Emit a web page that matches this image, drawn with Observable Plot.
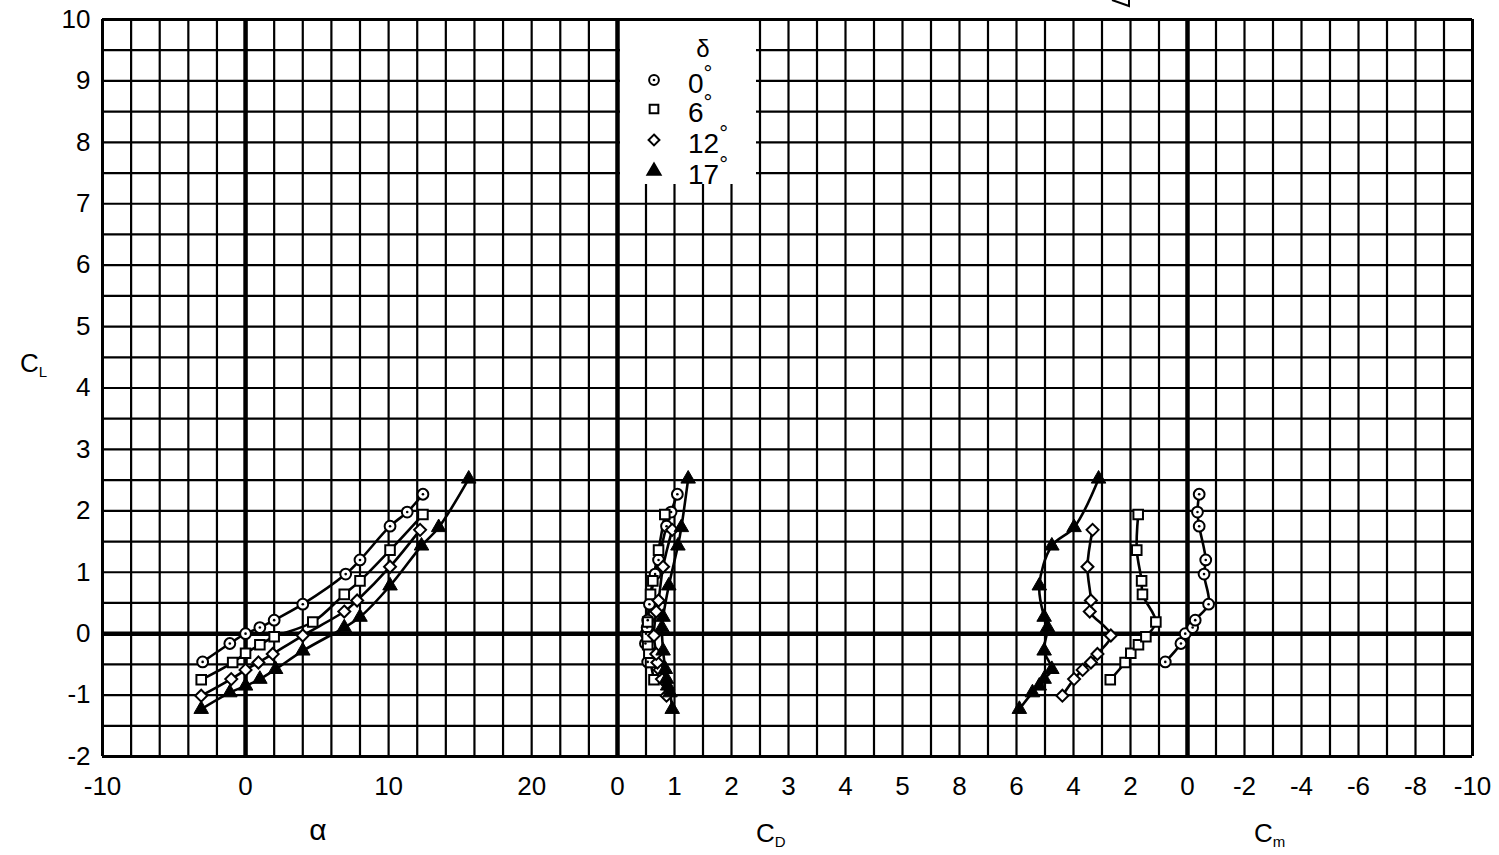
<!DOCTYPE html>
<html>
<head>
<meta charset="utf-8">
<script src="https://cdn.jsdelivr.net/npm/d3@7"></script>
<script src="https://cdn.jsdelivr.net/npm/@observablehq/plot@0.6"></script>
<style>
  html, body { margin: 0; padding: 0; background: #fff; }
  #chart { position: relative; width: 1499px; height: 855px; overflow: hidden; background: #fff;
           font-family: "Liberation Sans", Arial, sans-serif; }
  #chart > svg { position: absolute; top: 0; overflow: visible; }
</style>
</head>
<body>
<div id="chart"></div>
<script>
// ---------- categories ----------
const deltaLabels = ["0°", "6°", "12°", "17°"];
const markerShapes = ["circle", "square", "diamond2", "triangle"];

// ---------- tick labels ----------
const alphaTicks = [-10, 0, 10, 20];
const cdTicks = [0, 1, 2, 3, 4, 5];
const cmTicks = [8, 6, 4, 2, 0, -2, -4, -6, -8, -10];
const clTicks = [-2, -1, 0, 1, 2, 3, 4, 5, 6, 7, 8, 9, 10];

// ---------- series values ----------
// δ = 0°
const cl0    = [-0.46, -0.16, 0.00, 0.10, 0.22, 0.48, 0.97, 1.20, 1.75, 1.98, 2.27];
const alpha0 = [-3.0, -1.1, 0.0, 1.0, 2.0, 4.0, 7.0, 8.0, 10.1, 11.3, 12.4];
const cd0    = [0.53, 0.49, 0.50, 0.52, 0.53, 0.56, 0.66, 0.72, 0.86, 0.94, 1.05];
const cm0    = [0.78, 0.23, 0.08, -0.18, -0.27, -0.74, -0.58, -0.64, -0.41, -0.35, -0.41];
// δ = 6°
const cl6    = [-0.75, -0.47, -0.32, -0.18, -0.05, 0.19, 0.64, 0.86, 1.36, 1.94];
const alpha6 = [-3.1, -0.9, 0.0, 1.0, 2.0, 4.7, 6.9, 8.0, 10.1, 12.4];
const cd6    = [0.64, 0.58, 0.55, 0.53, 0.52, 0.53, 0.58, 0.62, 0.72, 0.83];
const cm6    = [2.71, 2.19, 1.99, 1.72, 1.46, 1.11, 1.58, 1.61, 1.78, 1.73];
// δ = 12°
const cl12    = [-1.01, -0.74, -0.59, -0.47, -0.33, -0.03, 0.36, 0.54, 1.09, 1.69];
const alpha12 = [-3.1, -1.0, 0.0, 0.9, 1.9, 4.0, 6.9, 7.8, 10.1, 12.2];
const cd12    = [0.86, 0.78, 0.74, 0.70, 0.68, 0.64, 0.68, 0.72, 0.80, 0.96];
const cm12    = [4.39, 3.98, 3.68, 3.39, 3.16, 2.69, 3.43, 3.39, 3.51, 3.33];
// δ = 17°
const cl17    = [-1.23, -0.96, -0.85, -0.74, -0.58, -0.28, 0.10, 0.27, 0.78, 1.43, 1.73, 2.52];
const alpha17 = [-3.1, -1.1, 0.0, 1.0, 2.1, 4.0, 6.9, 8.0, 10.1, 12.3, 13.5, 15.6];
const cd17    = [0.96, 0.92, 0.88, 0.86, 0.84, 0.80, 0.78, 0.80, 0.90, 1.06, 1.12, 1.24];
const cm17    = [5.90, 5.44, 5.20, 5.03, 4.76, 5.03, 4.91, 5.03, 5.20, 4.76, 3.98, 3.12];

// ---------- build table ----------
const seriesCL = [cl0, cl6, cl12, cl17];
const seriesAlpha = [alpha0, alpha6, alpha12, alpha17];
const seriesCD = [cd0, cd6, cd12, cd17];
const seriesCM = [cm0, cm6, cm12, cm17];
const rows = [];
deltaLabels.forEach((delta, i) => {
  seriesCL[i].forEach((cl, j) => {
    rows.push({delta, cl, alpha: seriesAlpha[i][j], cd: seriesCD[i][j], cm: seriesCM[i][j]});
  });
});
const openRows = rows.filter(d => d.delta !== "17°");
const filledRows = rows.filter(d => d.delta === "17°");
const circleRows = rows.filter(d => d.delta === "0°");

// ---------- panels ----------
const FONT = '"Liberation Sans", Arial, sans-serif';
const H = 855, MT = 19, MB = 99;
const clGrid = d3.range(-2, 10.001, 0.5);
const fmt = d => String(d);

function panel({key, domain, width, marginLeft, marginRight, grid, heavy, borders, ticks, yAxis}) {
  const marks = [
    Plot.ruleX(grid, {stroke: "#000", strokeWidth: 2.2}),
    Plot.ruleY(clGrid, {stroke: "#000", strokeWidth: 2.2}),
    Plot.ruleY([10, -2], {stroke: "#000", strokeWidth: 3}),
    Plot.ruleY([0], {stroke: "#000", strokeWidth: 4.5}),
    Plot.ruleX(heavy, {stroke: "#000", strokeWidth: 4.5}),
    Plot.ruleX(borders, {stroke: "#000", strokeWidth: 3}),
    Plot.line(rows, {x: key, y: "cl", z: "delta", stroke: "#000", strokeWidth: 2.6, curve: "catmull-rom"}),
    Plot.dot(openRows, {x: key, y: "cl", symbol: "delta", r: 5.4, stroke: "#000", strokeWidth: 2, fill: "#fff"}),
    Plot.dot(circleRows, {x: key, y: "cl", r: 1.3, fill: "#000"}),
    Plot.dot(filledRows, {x: key, y: "cl", symbol: "delta", r: 5.4, stroke: "#000", strokeWidth: 1, fill: "#000"}),
    Plot.axisX(ticks, {tickSize: 0, tickPadding: 20, tickFormat: fmt, label: null, fontSize: 26})
  ];
  if (yAxis) marks.push(Plot.axisY(clTicks, {tickSize: 0, tickPadding: 12, tickFormat: fmt, label: null, fontSize: 26}));
  return Plot.plot({
    width, height: H, marginTop: MT, marginBottom: MB, marginLeft, marginRight,
    x: {domain, axis: null},
    y: {domain: [-2, 10], axis: null},
    symbol: {domain: deltaLabels, range: markerShapes},
    style: {overflow: "visible", background: "transparent", color: "#000", fontFamily: FONT},
    marks
  });
}

const chart = document.getElementById("chart");

const p1 = panel({key: "alpha", domain: [-10, 26], width: 617, marginLeft: 102, marginRight: 0,
  grid: d3.range(-8, 25, 2), heavy: [0], borders: [-10], ticks: alphaTicks, yAxis: true});
p1.style.left = "0px";
chart.appendChild(p1);

const p2 = panel({key: "cd", domain: [0, 6], width: 342, marginLeft: 0, marginRight: 0,
  grid: d3.range(0.5, 6, 0.5), heavy: [0], borders: [], ticks: cdTicks, yAxis: false});
p2.style.left = "617px";
chart.appendChild(p2);

const p3 = panel({key: "cm", domain: [8, -10], width: 540, marginLeft: 0, marginRight: 27,
  grid: d3.range(8, -10, -1), heavy: [0], borders: [-10], ticks: cmTicks, yAxis: false});
p3.style.left = "959px";
chart.appendChild(p3);

// ---------- overlay: legend, axis titles ----------
const ov = d3.create("svg").attr("width", 1499).attr("height", 855)
  .style("left", "0px").style("pointer-events", "none").style("font-family", FONT);

// legend
const lg = ov.append("g");
lg.append("rect").attr("x", 620).attr("y", 21).attr("width", 136).attr("height", 163).attr("fill", "#fff");
lg.append("text").attr("x", 703).attr("y", 57).attr("text-anchor", "middle")
  .attr("font-size", 24).text("δ");
const rowY = [83, 112, 143, 174];
const legendSymbols = [d3.symbolCircle, d3.symbolSquare, d3.symbolDiamond2, d3.symbolTriangle];
deltaLabels.forEach((lab, i) => {
  lg.append("path").attr("transform", `translate(654,${rowY[i] - 3})`)
    .attr("d", d3.symbol(legendSymbols[i], 75)())
    .attr("fill", i === 3 ? "#000" : "#fff").attr("stroke", "#000").attr("stroke-width", 2);
  if (i === 0) lg.append("circle").attr("cx", 654).attr("cy", rowY[i] - 3).attr("r", 1.3).attr("fill", "#000");
  const t = lg.append("text").attr("x", 688).attr("y", rowY[i] + 10).attr("font-size", 28);
  t.append("tspan").text(lab.replace("°", ""));
  t.append("tspan").attr("font-size", 22).attr("dy", -12).text("°");
});

// axis titles
function subTitle(x, y, main, sub) {
  const t = ov.append("text").attr("x", x).attr("y", y).attr("font-size", 26);
  t.append("tspan").text(main);
  t.append("tspan").attr("font-size", 15).attr("dy", 5).text(sub);
}
subTitle(20, 372, "C", "L");
subTitle(756, 842, "C", "D");
subTitle(1254, 842, "C", "m");
ov.append("text").attr("x", 318).attr("y", 840).attr("text-anchor", "middle")
  .attr("font-size", 30).text("α");

// small cropped sketch fragment at top edge
ov.append("path").attr("d", "M1112,0 L1129,6 L1129,0").attr("fill", "none")
  .attr("stroke", "#000").attr("stroke-width", 2);

chart.appendChild(ov.node());
</script>
</body>
</html>
